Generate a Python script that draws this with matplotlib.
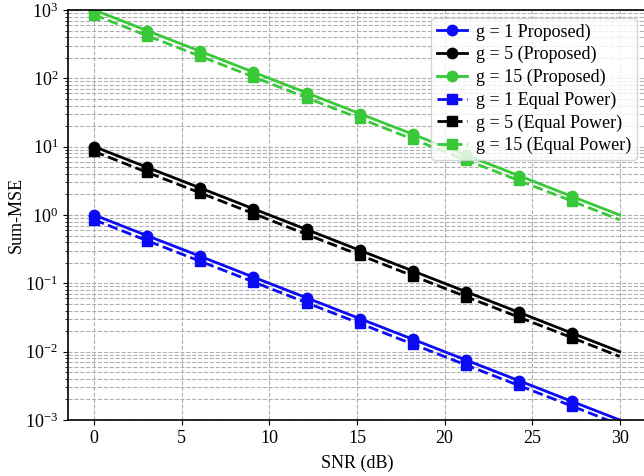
import numpy as np
import matplotlib
matplotlib.use('Agg')
import matplotlib.pyplot as plt

# SNR points (marker positions) and the line end at 30 dB
snr_db = [0, 3.03, 6.06, 9.09, 12.12, 15.15, 18.18, 21.21, 24.24, 27.27, 30]

g1_proposed = [1.0, 0.497, 0.248, 0.123, 0.0614, 0.0305, 0.0152, 0.00756, 0.00377, 0.00187, 0.001]
g5_proposed = [10.0, 4.97, 2.48, 1.23, 0.614, 0.305, 0.152, 0.0756, 0.0377, 0.0187, 0.01]
g15_proposed = [1000, 497, 248, 123, 61.4, 30.5, 15.2, 7.56, 3.77, 1.87, 1.0]

g1_equal = [0.85, 0.42, 0.21, 0.105, 0.052, 0.026, 0.0129, 0.0064, 0.0032, 0.0016, 0.00085]
g5_equal = [8.5, 4.2, 2.1, 1.05, 0.52, 0.26, 0.129, 0.064, 0.032, 0.016, 0.0085]
g15_equal = [850, 420, 210, 105, 52, 26, 12.9, 6.4, 3.2, 1.6, 0.85]

labels = ['g = 1 Proposed)', 'g = 5 (Proposed)', 'g = 15 (Proposed)',
          'g = 1 Equal Power)', 'g = 5 (Equal Power)', 'g = 15 (Equal Power)']

plt.rcParams['font.family'] = ['Liberation Serif', 'DejaVu Serif']
plt.rcParams['mathtext.fontset'] = 'custom'
plt.rcParams['mathtext.rm'] = 'Liberation Serif'
plt.rcParams['mathtext.it'] = 'Liberation Serif:italic'

fig = plt.figure(figsize=(6.44, 4.76), dpi=100)
ax = fig.add_axes([68 / 644, 56 / 476, 578 / 644, 410 / 476])

blue = '#0a0af5'
green = '#38c838'
marks = list(range(10))

ax.plot(snr_db, g1_proposed, color=blue, linestyle='-', marker='o', markersize=7.5, linewidth=2, markevery=marks, label=labels[0])
ax.plot(snr_db, g5_proposed, color='black', linestyle='-', marker='o', markersize=7.5, linewidth=2, markevery=marks, label=labels[1])
ax.plot(snr_db, g15_proposed, color=green, linestyle='-', marker='o', markersize=7.5, linewidth=2, markevery=marks, label=labels[2])
ax.plot(snr_db, g1_equal, color=blue, linestyle='--', marker='s', markersize=7.5, linewidth=2, markevery=marks, label=labels[3])
ax.plot(snr_db, g5_equal, color='black', linestyle='--', marker='s', markersize=7.5, linewidth=2, markevery=marks, label=labels[4])
ax.plot(snr_db, g15_equal, color=green, linestyle='--', marker='s', markersize=7.5, linewidth=2, markevery=marks, label=labels[5])

ax.set_yscale('log')
ax.set_ylim(1e-3, 1e3)
ax.set_xlim(-1.5, 31.5)
ax.set_xticks([0, 5, 10, 15, 20, 25, 30])
ax.grid(True, which='major', axis='x', linestyle='--', color='#b0b0b0', linewidth=0.8)
ax.grid(True, which='both', axis='y', linestyle='--', color='#b0b0b0', linewidth=0.8)
ax.tick_params(labelsize=13)
ax.set_xlabel('SNR (dB)', fontsize=13, labelpad=6)
ax.set_ylabel('Sum-MSE', fontsize=13, labelpad=0)
for side in ['top', 'right', 'bottom', 'left']:
    ax.spines[side].set_linewidth(1.2)

ax.legend(loc='upper right', bbox_to_anchor=(0.9844, 0.9805), borderaxespad=0,
          fontsize=13, labelspacing=0.3, handlelength=1.7, handletextpad=0.5,
          borderpad=0.3)

fig.savefig('out.png', dpi=100)
